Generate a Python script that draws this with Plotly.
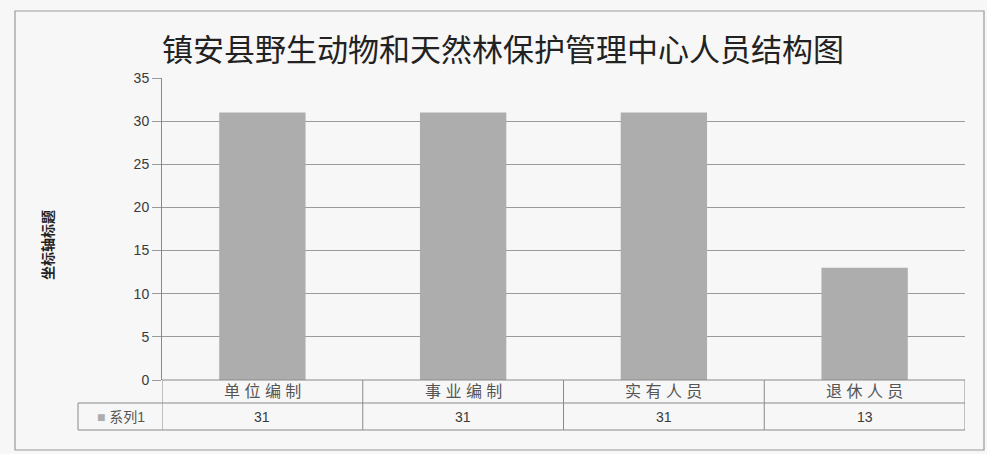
import plotly.graph_objects as go

categories = ["单位编制", "事业编制", "实有人员", "退休人员"]
values = [31, 31, 31, 13]
series_name = "系列1"
title_text = "镇安县野生动物和天然林保护管理中心人员结构图"
y_title = "坐标轴标题"
y_ticks = [0, 5, 10, 15, 20, 25, 30, 35]

BAR = "#adadad"
GRID = "#9a9a9a"
TXT = "#3a3a3a"
FONT = "Liberation Sans, Noto Sans CJK SC"

fig = go.Figure()
fig.add_trace(go.Bar(x=list(range(len(categories))), y=values, name=series_name,
                     marker=dict(color=BAR, line=dict(width=0)), width=0.43))

L, R, T, B = 162, 22, 78, 74
W, H = 987, 454
pw, ph = W - L - R, H - T - B

def px_x(p):
    return (p - L) / pw

def px_y(p):
    return (H - B - p) / ph

shapes = []
# outer frame
shapes.append(dict(type="rect", xref="paper", yref="paper",
                   x0=px_x(15), x1=px_x(984), y0=px_y(450), y1=px_y(11),
                   line=dict(color="#9a9a9a", width=1.2), layer="below"))
# table
row1 = px_y(403)
row2 = px_y(430)
n = len(categories)
for k in range(n + 1):
    shapes.append(dict(type="line", xref="x", yref="paper", x0=k - 0.5, x1=k - 0.5,
                       y0=row2, y1=0, line=dict(color="#8a8a8a", width=1)))
for yy in (0, row1, row2):
    shapes.append(dict(type="line", xref="paper", yref="paper",
                       x0=0 if yy != row2 else px_x(78),
                       x1=1, y0=yy, y1=yy, line=dict(color="#8a8a8a", width=1)))
# legend cell
shapes.append(dict(type="line", xref="paper", yref="paper", x0=px_x(78), x1=0,
                   y0=row1, y1=row1, line=dict(color="#8a8a8a", width=1)))
shapes.append(dict(type="line", xref="paper", yref="paper", x0=px_x(78), x1=px_x(78),
                   y0=row2, y1=row1, line=dict(color="#8a8a8a", width=1)))

C = dict(xanchor="center", yanchor="middle", showarrow=False)
annotations = []
for i, (c, v) in enumerate(zip(categories, values)):
    annotations.append(dict(x=i, xref="x", y=(0 + row1) / 2, yref="paper", text=" ".join(c),
                            font=dict(size=16, color="#555", family=FONT), **C))
    annotations.append(dict(x=i, xref="x", y=(row1 + row2) / 2, yref="paper", text=str(v),
                            font=dict(size=14, color=TXT, family=FONT), **C))
annotations.append(dict(x=px_x(121), xref="paper", y=(row1 + row2) / 2, yref="paper",
                        text=f"<span style='color:{BAR}'>■</span> {series_name}",
                        font=dict(size=14, color="#555", family=FONT), **C))
annotations.append(dict(x=px_x(48), xref="paper", y=px_y(245), yref="paper",
                        text=f"<b>{y_title}</b>", textangle=-90,
                        font=dict(size=14, color="#222", family=FONT), **C))
annotations.append(dict(x=px_x(503), xref="paper", y=px_y(47), yref="paper",
                        text=title_text,
                        font=dict(size=31, color="#222", family="Noto Sans CJK SC"), **C))

fig.update_layout(
    width=W, height=H,
    margin=dict(l=L, r=R, t=T, b=B),
    paper_bgcolor="#f7f7f7", plot_bgcolor="#f7f7f7",
    showlegend=False,
    shapes=shapes, annotations=annotations,
    xaxis=dict(range=[-0.5, n - 0.5], showticklabels=False, showgrid=False,
               zeroline=False, showline=False, ticks=""),
    yaxis=dict(range=[0, 35], tickvals=y_ticks, showgrid=True, gridcolor=GRID,
               gridwidth=1, zeroline=False, showline=True, linecolor="#8a8a8a",
               ticks="outside", ticklen=9, tickcolor=GRID,
               tickfont=dict(size=14, color=TXT, family=FONT)),
    bargap=0.5,
)

fig.write_html("out.html", config={"displayModeBar": False},
               post_script="document.body.style.margin='0';document.body.style.overflow='hidden';")
